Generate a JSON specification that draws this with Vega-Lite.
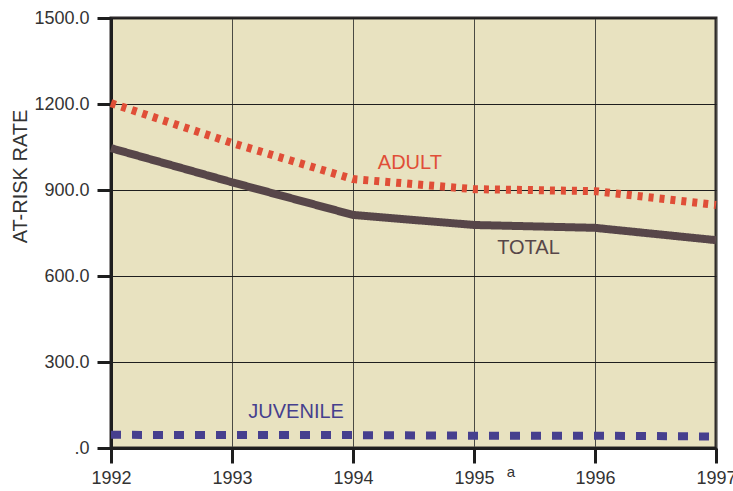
{
  "$schema": "https://vega.github.io/schema/vega-lite/v6.json",
  "width": 605,
  "height": 430,
  "autosize": {"type": "none"},
  "padding": {"left": 111, "top": 18, "right": 17, "bottom": 43},
  "background": "#ffffff",
  "config": {
    "font": "Liberation Sans",
    "view": {"fill": "#e8e2c0", "stroke": "#2e2a2a", "strokeWidth": 3}
  },
  "datasets": {
    "lines": [
      {"series": "JUVENILE", "year": 1992, "value": 46},
      {"series": "JUVENILE", "year": 1993, "value": 45},
      {"series": "JUVENILE", "year": 1994, "value": 45},
      {"series": "JUVENILE", "year": 1995, "value": 43},
      {"series": "JUVENILE", "year": 1996, "value": 43},
      {"series": "JUVENILE", "year": 1997, "value": 40},
      {"series": "TOTAL", "year": 1992, "value": 1046},
      {"series": "TOTAL", "year": 1993, "value": 927},
      {"series": "TOTAL", "year": 1994, "value": 813},
      {"series": "TOTAL", "year": 1995, "value": 778},
      {"series": "TOTAL", "year": 1996, "value": 768},
      {"series": "TOTAL", "year": 1997, "value": 725},
      {"series": "ADULT", "year": 1992, "value": 1203},
      {"series": "ADULT", "year": 1993, "value": 1064},
      {"series": "ADULT", "year": 1994, "value": 938},
      {"series": "ADULT", "year": 1995, "value": 903},
      {"series": "ADULT", "year": 1996, "value": 896},
      {"series": "ADULT", "year": 1997, "value": 848}
    ],
    "labels": [
      {"series": "ADULT", "year": 1994.47, "value": 994},
      {"series": "TOTAL", "year": 1995.45, "value": 698},
      {"series": "JUVENILE", "year": 1993.53, "value": 126}
    ],
    "note": [
      {"year": 1995, "value": 0, "text": "a"}
    ]
  },
  "layer": [
    {
      "data": {"name": "lines"},
      "mark": {"type": "line", "strokeCap": "butt", "strokeJoin": "round"},
      "encoding": {
        "x": {
          "field": "year", "type": "quantitative",
          "scale": {"domain": [1992, 1997], "nice": false, "zero": false},
          "axis": {
            "values": [1992, 1993, 1994, 1995, 1996, 1997],
            "format": "d",
            "title": null,
            "grid": true, "gridColor": "#4a4a44", "gridWidth": 1, "gridOpacity": 1,
            "domainColor": "#1e1e1e", "domainWidth": 3,
            "tickColor": "#1e1e1e", "tickWidth": 3, "tickSize": 15,
            "labelFont": "Liberation Sans", "labelFontSize": 18, "labelColor": "#333333",
            "labelPadding": 6, "labelFlush": false, "labelOverlap": false
          }
        },
        "y": {
          "field": "value", "type": "quantitative",
          "scale": {"domain": [0, 1500], "nice": false},
          "axis": {
            "values": [0, 300, 600, 900, 1200, 1500],
            "labelExpr": "datum.value == 0 ? '.0' : format(datum.value, '.1f')",
            "title": "AT-RISK RATE",
            "titleFont": "Liberation Sans", "titleFontSize": 20, "titleFontWeight": "normal",
            "titleColor": "#333333",
            "titleAngle": -90, "titleX": -91, "titleY": 158,
            "titleAlign": "center", "titleBaseline": "middle",
            "grid": true, "gridColor": "#1e1e1e", "gridWidth": 1, "gridOpacity": 1,
            "domainColor": "#1e1e1e", "domainWidth": 3,
            "tickColor": "#1e1e1e", "tickWidth": 3, "tickSize": 14,
            "labelFont": "Liberation Sans", "labelFontSize": 18, "labelColor": "#333333",
            "labelPadding": 8, "labelFlush": false, "labelOverlap": false
          }
        },
        "detail": {"field": "series"},
        "color": {
          "field": "series", "type": "nominal", "legend": null,
          "scale": {"domain": ["JUVENILE", "TOTAL", "ADULT"], "range": ["#463f8e", "#574649", "#e04e37"]}
        },
        "strokeDash": {
          "field": "series", "type": "nominal", "legend": null,
          "scale": {"domain": ["JUVENILE", "TOTAL", "ADULT"], "range": [[10, 11], [1, 0], [5, 6]]}
        },
        "strokeWidth": {
          "field": "series", "type": "nominal", "legend": null,
          "scale": {"domain": ["JUVENILE", "TOTAL", "ADULT"], "range": [8, 8, 7]}
        },
        "order": {"field": "year", "type": "quantitative"}
      }
    },
    {
      "data": {"name": "labels"},
      "mark": {"type": "text", "font": "Liberation Sans", "fontSize": 20, "align": "center", "baseline": "middle"},
      "encoding": {
        "x": {"field": "year", "type": "quantitative"},
        "y": {"field": "value", "type": "quantitative"},
        "text": {"field": "series"},
        "color": {
          "field": "series", "type": "nominal", "legend": null,
          "scale": {"domain": ["JUVENILE", "TOTAL", "ADULT"], "range": ["#463f8e", "#574649", "#e04e37"]}
        }
      }
    },
    {
      "data": {"name": "note"},
      "mark": {"type": "text", "font": "Liberation Sans", "fontSize": 15, "align": "center", "baseline": "middle", "dx": 37, "dy": 24, "color": "#333333"},
      "encoding": {
        "x": {"field": "year", "type": "quantitative"},
        "y": {"field": "value", "type": "quantitative"},
        "text": {"field": "text"}
      }
    }
  ]
}
